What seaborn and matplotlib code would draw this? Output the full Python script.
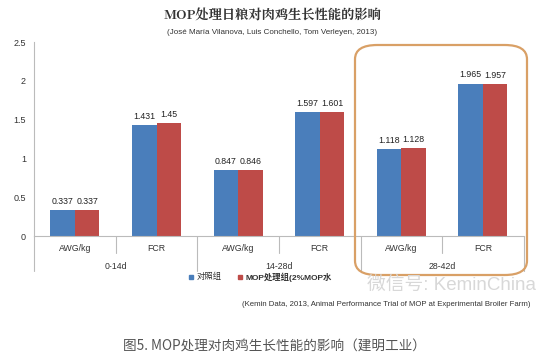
import pandas as pd
import seaborn as sns
import matplotlib.pyplot as plt
from matplotlib.patches import FancyBboxPatch
from matplotlib.lines import Line2D

# data
periods = ['0-14d', '14-28d', '28-42d']
metrics = ['AWG/kg', 'FCR']
groups = ['对照组', 'MOP处理组(2%MOP水']
control = [0.337, 1.431, 0.847, 1.597, 1.118, 1.965]
mop = [0.337, 1.45, 0.846, 1.601, 1.128, 1.957]
labels_ctrl = ['0.337', '1.431', '0.847', '1.597', '1.118', '1.965']
labels_mop = ['0.337', '1.45', '0.846', '1.601', '1.128', '1.957']

cats = [p + ' ' + m for p in periods for m in metrics]
df = pd.DataFrame({
    'cat': cats * 2,
    'group': [groups[0]] * 6 + [groups[1]] * 6,
    'value': control + mop,
})

sns.set_style('white')
plt.rcParams['font.family'] = ['Liberation Sans', 'Noto Sans CJK SC', 'DejaVu Sans']

fig = plt.figure(figsize=(5.59, 3.56), dpi=100)
ax = fig.add_axes([0.061, 0.337, 0.876, 0.545])
sns.barplot(data=df, x='cat', y='value', hue='group', order=cats,
            palette=['#4A7EBB', '#BE4B48'], width=0.6, saturation=1,
            linewidth=0, legend=False, ax=ax)

for cont, labs in zip(ax.containers, [labels_ctrl, labels_mop]):
    ax.bar_label(cont, labels=labs, padding=3, fontsize=6.3, color='#222222')

ax.set_ylim(0, 2.5)
ax.set_xlim(-0.5, 5.5)
ax.set_yticks([0, 0.5, 1, 1.5, 2, 2.5])
ax.set_yticklabels(['0', '0.5', '1', '1.5', '2', '2.5'], fontsize=6.5, color='#333333')
ax.tick_params(axis='y', length=3, color='#BBBBBB', pad=2.8)
ax.set_xticks([])
ax.set_xlabel('')
ax.set_ylabel('')
for s in ['top', 'right']:
    ax.spines[s].set_visible(False)
ax.spines['left'].set_color('#BBBBBB')
ax.spines['bottom'].set_color('#BBBBBB')
ax.spines['left'].set_linewidth(0.8)
ax.spines['bottom'].set_linewidth(0.8)

# two-level category axis
tr = ax.get_xaxis_transform()
for i in range(6):
    ax.text(i, -0.065, metrics[i % 2], transform=tr, ha='center', va='center',
            fontsize=6.3, color='#333333')
for j, p in enumerate(periods):
    ax.text(2 * j + 0.5, -0.155, p, transform=tr, ha='center', va='center',
            fontsize=6.3, color='#333333')
for k in range(7):
    x = k - 0.5
    low = -0.18 if k % 2 == 0 else -0.09
    ax.add_line(Line2D([x, x], [0, low], transform=tr, color='#BBBBBB',
                       lw=0.8, clip_on=False))

# orange highlight box
box = FancyBboxPatch((355 / 559, 1 - 275 / 356), 172 / 559, 230 / 356,
                     boxstyle='round,pad=0,rounding_size=0.04',
                     transform=fig.transFigure, fill=False,
                     edgecolor='#D9A066', lw=1.6)
fig.patches.append(box)

fig.text(0.487, 1 - 16 / 356, 'MOP处理日粮对肉鸡生长性能的影响', ha='center', va='center',
         fontsize=9.5, fontweight='bold', color='#333333',
         family=['Noto Serif CJK SC', 'Noto Sans CJK SC', 'DejaVu Sans'])
fig.text(0.487, 1 - 32 / 356, '(José María Vilanova, Luis Conchello, Tom Verleyen, 2013)',
         ha='center', va='center', fontsize=5.8, color='#333333')

# legend
fig.patches.append(plt.Rectangle((189 / 559, 1 - 279 / 356), 4 / 559, 4 / 356,
                                 transform=fig.transFigure, color='#4A7EBB'))
fig.text(197 / 559, 1 - 277 / 356, groups[0], ha='left', va='center', fontsize=6,
         color='#333333')
fig.patches.append(plt.Rectangle((238 / 559, 1 - 279 / 356), 4 / 559, 4 / 356,
                                 transform=fig.transFigure, color='#BE4B48'))
fig.text(246 / 559, 1 - 277 / 356, groups[1], ha='left', va='center', fontsize=6,
         fontweight='bold', color='#333333')

# watermark
fig.text(367 / 559, 1 - 285 / 356, '微信号: KeminChina', ha='left', va='center',
         fontsize=13.5, color='#D8D8D8', fontweight='light')

fig.text(242 / 559, 1 - 304 / 356,
         '(Kemin Data, 2013, Animal Performance Trial of MOP at Experimental Broiler Farm)',
         ha='left', va='center', fontsize=5.6, color='#333333')

fig.text(0.491, 1 - 347 / 356, '图5. MOP处理对肉鸡生长性能的影响（建明工业）',
         ha='center', va='center', fontsize=9.8, color='#555555',
         family=['Noto Sans CJK SC', 'DejaVu Sans'])

fig.savefig('out.png', dpi=100)
